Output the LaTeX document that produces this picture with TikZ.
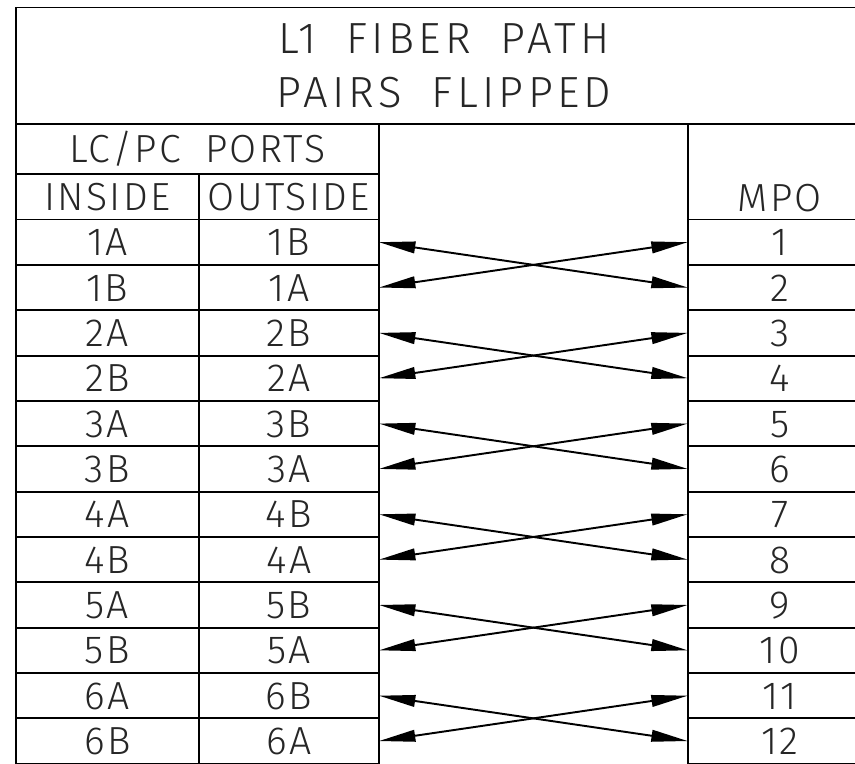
\documentclass[tikz,border=0pt]{standalone}
\usepackage{fontspec}
\IfFontExistsTF{Fira Sans Light}{%
  \setmainfont{Fira Sans Light}[WordSpace=1.8, LetterSpace=6]
  \newcommand{\cellfont}{\fontsize{22.3}{25}\selectfont}
  \newcommand{\titlefont}{\addfontfeatures{LetterSpace=10}\fontsize{24.8}{30.6}\selectfont}}{%
  \setmainfont{Liberation Sans}[WordSpace=1.8]
  \newcommand{\cellfont}{\fontsize{21.5}{24}\selectfont}
  \newcommand{\titlefont}{\fontsize{23.8}{30.6}\selectfont}}
\usetikzlibrary{arrows.meta, positioning}
\definecolor{cink}{HTML}{262626}
\tikzset{
  every picture/.style={line width=1.1pt},
  frame/.style={draw=black, rectangle, outer sep=0pt, inner sep=0pt, text=cink},
  cell/.style={frame, minimum height=0.907cm, text height=0.54cm, text depth=0pt, font=\cellfont},
  fiber/.style={{Triangle[length=20.7pt, width=6.6pt]}-{Triangle[length=20.7pt, width=6.6pt]}, draw=black, line width=1.1pt},
}

\begin{document}
\begin{tikzpicture}[inw/.style={cell, minimum width=3.654cm}, outw/.style={cell, minimum width=3.606cm},
  mpow/.style={cell, minimum width=3.686cm}]
  \useasboundingbox (0,0) rectangle (17.1,-15.26);
  \clip (0,0) rectangle (17.1,-15.26);
  % title
  \node[frame, minimum width=17.12cm, minimum height=2.33cm, align=center, font=\titlefont] (title) at (8.88,-1.315) {L1 FIBER PATH\\PAIRS FLIPPED};
  % headers
  \node[cell, minimum width=7.26cm, minimum height=0.994cm] (ports) at (3.95,-2.977) {LC/PC PORTS};
  \node[inw, minimum height=0.916cm] (inhd) at (2.147,-3.932) {INSIDE};
  \node[outw, minimum height=0.916cm] (outhd) at (5.777,-3.932) {OUTSIDE};
  \node[mpow, minimum height=1.91cm, text height=1.743cm, text depth=0.167cm] (mpohd) at (15.597,-3.435) {MPO};
  % rows and crossed pairs
  \foreach \p in {1,...,6} {
    \pgfmathtruncatemacro{\ra}{2*\p-1}
    \pgfmathtruncatemacro{\rb}{2*\p}
    \node[inw] (in\ra) at (2.147,{-4.39-0.907*(\ra-0.5)}) {\p A};
    \node[inw] (in\rb) at (2.147,{-4.39-0.907*(\rb-0.5)}) {\p B};
    \node[outw] (out\ra) at (5.777,{-4.39-0.907*(\ra-0.5)}) {\p B};
    \node[outw] (out\rb) at (5.777,{-4.39-0.907*(\rb-0.5)}) {\p A};
    \node[mpow] (mpo\ra) at (15.597,{-4.39-0.907*(\ra-0.5)}) {\ra};
    \node[mpow] (mpo\rb) at (15.597,{-4.39-0.907*(\rb-0.5)}) {\rb};
    \draw[fiber] (out\ra.east) -- (mpo\rb.west);
    \draw[fiber] (out\rb.east) -- (mpo\ra.west);
  }
\end{tikzpicture}
\end{document}
